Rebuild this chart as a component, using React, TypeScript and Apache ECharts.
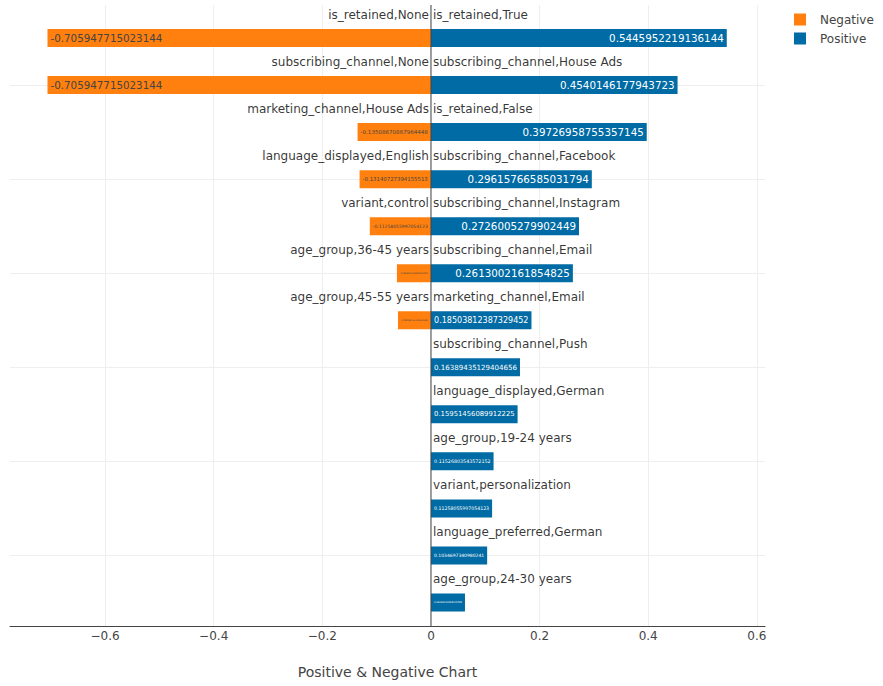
import React, { useEffect, useRef } from "react";
import * as echarts from "echarts";

// ---- data ----
const categories = [
  "is_retained,True",
  "subscribing_channel,House Ads",
  "is_retained,False",
  "subscribing_channel,Facebook",
  "subscribing_channel,Instagram",
  "subscribing_channel,Email",
  "marketing_channel,Email",
  "subscribing_channel,Push",
  "language_displayed,German",
  "age_group,19-24 years",
  "variant,personalization",
  "language_preferred,German",
  "age_group,24-30 years",
];
const positiveLabels = categories;
const negativeLabels = [
  "is_retained,None",
  "subscribing_channel,None",
  "marketing_channel,House Ads",
  "language_displayed,English",
  "variant,control",
  "age_group,36-45 years",
  "age_group,45-55 years",
];
const positiveValues = [
  0.5445952219136144, 0.4540146177943723, 0.39726958755357145, 0.29615766585031794,
  0.2726005279902449, 0.2613002161854825, 0.18503812387329452, 0.16389435129404656,
  0.15951456089912225, 0.11526803543572152, 0.11258055997054123, 0.10346973409802409,
  0.06263210358225785,
];
const negativeValues: (number | null)[] = [
  -0.705947715023144, -0.705947715023144, -0.13508670867964448, -0.13140727394155513,
  -0.11258055997054123, -0.06263210358225785, -0.06069744139422593,
  null, null, null, null, null, null,
];
const gridLineRows = [1, 3, 5, 7, 9, 11];

// ---- layout / style ----
const W = 883;
const H = 686;
const GRID_LEFT = 10;
const GRID_RIGHT = 118;
const PLOT_TOP = 5;
const BAR_TOP = 14.5;
const GRID_BOTTOM = 60;
const X_MIN = -0.775;
const X_MAX = 0.615;
const FONT = "DejaVu Sans";
const PX_PER_UNIT = (W - GRID_LEFT - GRID_RIGHT) / (X_MAX - X_MIN);
const ROW_H = (H - GRID_BOTTOM - BAR_TOP) / categories.length;
const NEG_COLOR = "#FF800E";
const POS_COLOR = "#006BA4";

function emWidth(s: string) {
  let w = 0;
  for (const c of s) {
    if (c === ".") w += 0.318;
    else if (c === "-") w += 0.361;
    else w += 0.636;
  }
  return w;
}

function barItem(v: number | null, positive: boolean) {
  if (v == null) return "-";
  const s = String(v);
  const w = Math.abs(v) * PX_PER_UNIT;
  const size = Math.max(1, Math.min(10.3, (w - 6) / emWidth(s)));
  return {
    value: v,
    label: { fontSize: size, color: positive ? "#ffffff" : "#444444" },
  };
}

function tickFmt(v: number) {
  const r = Math.round(v * 10) / 10;
  if (r === 0) return "0";
  return (r < 0 ? "\u2212" : "") + String(Math.abs(r));
}

export default function App() {
  const ref = useRef<HTMLDivElement>(null);
  useEffect(() => {
    if (!ref.current) return;
    const chart = echarts.init(ref.current, undefined, { renderer: "svg" });
    chart.setOption({
      animation: false,
      backgroundColor: "#ffffff",
      textStyle: { fontFamily: FONT },
      legend: {
        data: ["Negative", "Positive"],
        orient: "vertical",
        left: 794,
        top: 13.5,
        padding: 0,
        itemWidth: 12,
        itemHeight: 12,
        itemGap: 7,
        icon: "rect",
        selectedMode: false,
        textStyle: { fontFamily: FONT, fontSize: 12, color: "#444", padding: [0, 0, 0, 9] },
      },
      grid: [
        { left: GRID_LEFT, right: GRID_RIGHT, top: PLOT_TOP, bottom: GRID_BOTTOM },
        { left: GRID_LEFT, right: GRID_RIGHT, top: BAR_TOP, bottom: GRID_BOTTOM },
      ],
      xAxis: [
        {
          type: "value",
          gridIndex: 0,
          min: X_MIN,
          max: X_MAX,
          splitNumber: 7,
          minInterval: 0.2,
          maxInterval: 0.2,
          axisLine: { show: true, onZero: false, lineStyle: { color: "#444", width: 1 } },
          axisTick: { show: false },
          axisLabel: {
            color: "#444",
            fontSize: 12,
            fontFamily: FONT,
            margin: 4,
            showMinLabel: false,
            showMaxLabel: false,
            formatter: tickFmt,
          },
          splitLine: {
            show: true,
            showMinLine: false,
            showMaxLine: false,
            lineStyle: { color: "#eeeeee", width: 1 },
          },
          name: "Positive & Negative Chart",
          nameLocation: "middle",
          nameGap: 39,
          nameTextStyle: { color: "#444", fontSize: 14, fontFamily: FONT },
        },
        {
          type: "value",
          gridIndex: 1,
          min: X_MIN,
          max: X_MAX,
          show: false,
        },
      ],
      yAxis: [
        { type: "value", gridIndex: 0, min: 0, max: 1, show: false },
        {
          type: "category",
          gridIndex: 1,
          inverse: true,
          data: categories,
          show: false,
        },
      ],
      series: [
        {
          name: "hgrid",
          type: "line",
          xAxisIndex: 1,
          yAxisIndex: 1,
          data: [],
          silent: true,
          z: 1,
          markLine: {
            silent: true,
            z: 1,
            symbol: ["none", "none"],
            label: { show: false },
            lineStyle: { color: "#eeeeee", width: 1, type: "solid" },
            emphasis: { disabled: true },
            data: gridLineRows.map((i) => ({ yAxis: categories[i] })),
          },
        },
        {
          name: "Negative",
          type: "bar",
          xAxisIndex: 1,
          yAxisIndex: 1,
          barWidth: 18,
          barGap: "-100%",
          z: 2,
          silent: true,
          itemStyle: { color: NEG_COLOR },
          label: {
            show: true,
            position: "insideLeft",
            distance: 3,
            fontFamily: FONT,
            formatter: (p: any) => String(p.value),
          },
          data: negativeValues.map((v) => barItem(v, false)),
        },
        {
          name: "Positive",
          type: "bar",
          xAxisIndex: 1,
          yAxisIndex: 1,
          barWidth: 18,
          barGap: "-100%",
          z: 2,
          silent: true,
          itemStyle: { color: POS_COLOR },
          label: {
            show: true,
            position: "insideRight",
            distance: 3,
            fontFamily: FONT,
            formatter: (p: any) => String(p.value),
          },
          data: positiveValues.map((v) => barItem(v, true)),
        },
        {
          name: "zeroline",
          type: "line",
          xAxisIndex: 0,
          yAxisIndex: 0,
          data: [
            [0, 0],
            [0, 1],
          ],
          symbol: "none",
          silent: true,
          z: 3,
          lineStyle: { color: "#444", width: 1 },
        },
        {
          name: "negNames",
          type: "scatter",
          xAxisIndex: 1,
          yAxisIndex: 1,
          symbolSize: 0,
          silent: true,
          z: 4,
          label: {
            show: true,
            position: "left",
            distance: 2,
            offset: [0, -ROW_H / 2],
            color: "#000",
            fontSize: 12,
            fontFamily: FONT,
            formatter: (p: any) => negativeLabels[p.dataIndex],
          },
          data: negativeLabels.map((_, i) => [0, categories[i]]),
        },
        {
          name: "posNames",
          type: "scatter",
          xAxisIndex: 1,
          yAxisIndex: 1,
          symbolSize: 0,
          silent: true,
          z: 4,
          label: {
            show: true,
            position: "right",
            distance: 2,
            offset: [0, -ROW_H / 2],
            color: "#000",
            fontSize: 12,
            fontFamily: FONT,
            formatter: (p: any) => positiveLabels[p.dataIndex],
          },
          data: positiveLabels.map((_, i) => [0, categories[i]]),
        },
      ],
    });
    return () => chart.dispose();
  }, []);
  return (
    <div
      ref={ref}
      style={{ position: "fixed", left: 0, top: 0, width: W, height: H, background: "#fff" }}
    />
  );
}
